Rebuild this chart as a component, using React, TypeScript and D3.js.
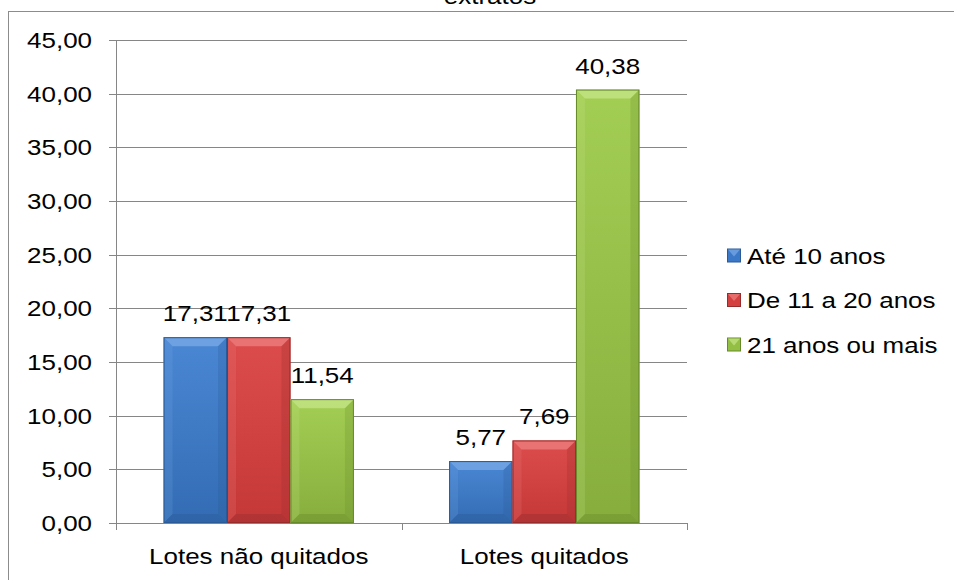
import React from "react";
import * as d3 from "d3";

const categories = ["Lotes não quitados", "Lotes quitados"];
const seriesNames = ["Até 10 anos", "De 11 a 20 anos", "21 anos ou mais"];
const ate10 = [17.31, 5.77];
const de11a20 = [17.31, 7.69];
const mais21 = [11.54, 40.38];
const yTicks = [0, 5, 10, 15, 20, 25, 30, 35, 40, 45];
const titleText = "extratos";

const palette = [
  { base: "#3b79c8", light: "#7aaae6", dark: "#2a5b98", top: "#4a87d4", bottom: "#336cb3" },
  { base: "#d43f3f", light: "#ee8080", dark: "#962c2c", top: "#dc4c4c", bottom: "#c53838" },
  { base: "#94bf45", light: "#c6e68a", dark: "#678a2b", top: "#a3ce54", bottom: "#87ae3d" },
];

const W = 954;
const H = 580;
const left = 116;
const right = 687;
const top = 40;
const bottom = 523;
const font = "Liberation Sans, Arial, sans-serif";

function Txt({ x, y, anchor = "start", size = 22, sx = 1.18, children }: any) {
  return (
    <text
      transform={`translate(${x},${y}) scale(${sx},1)`}
      textAnchor={anchor}
      fontFamily={font}
      fontSize={size}
      fill="#000"
    >
      {children}
    </text>
  );
}

export default function App() {
  const values = [ate10, de11a20, mais21];
  const y = d3.scaleLinear().domain([0, 45]).range([bottom, top]);
  const x0 = d3.scaleBand().domain(categories).range([left, right]).paddingInner(0).paddingOuter(0);
  const groupW = x0.bandwidth() * (2 / 3);
  const x1 = d3.scaleBand().domain(seriesNames).range([0, groupW]).padding(0);
  const bev = 9;

  return (
    <svg width={W} height={H} style={{ position: "absolute", left: 0, top: 0, background: "#fff" }}>
      <defs>
        {palette.map((p, i) => (
          <linearGradient key={i} id={`g${i}`} x1="0" y1="0" x2="0" y2="1">
            <stop offset="0%" stopColor={p.top} />
            <stop offset="100%" stopColor={p.bottom} />
          </linearGradient>
        ))}
      </defs>
      <rect x={8.5} y={11.5} width={W} height={H} fill="none" stroke="#8c8c8c" strokeWidth={1} />
      <Txt x={490} y={4} anchor="middle">{titleText}</Txt>
      {yTicks.map((t) => (
        <g key={t}>
          {t > 0 && (
            <line x1={left} x2={right} y1={Math.round(y(t)) + 0.5} y2={Math.round(y(t)) + 0.5} stroke="#868686" />
          )}
          <line x1={left - 7} x2={left} y1={Math.round(y(t)) + 0.5} y2={Math.round(y(t)) + 0.5} stroke="#868686" />
          <Txt x={92} y={y(t) + 8} anchor="end">
            {t.toFixed(2).replace(".", ",")}
          </Txt>
        </g>
      ))}
      <line x1={left + 0.5} x2={left + 0.5} y1={top} y2={bottom} stroke="#868686" />
      {categories.map((c, ci) => {
        const gx = (x0(c) as number) + (x0.bandwidth() - groupW) / 2;
        return (
          <g key={c}>
            {seriesNames.map((s, si) => {
              const v = values[si][ci];
              const bx = gx + (x1(s) as number);
              const bw = x1.bandwidth();
              const by = y(v);
              const bh = bottom - by;
              const p = palette[si];
              const b = Math.min(bev, bh / 2);
              return (
                <g key={s}>
                  <rect x={bx} y={by} width={bw} height={bh} fill={`url(#g${si})`} />
                  <polygon
                    points={`${bx},${by} ${bx + bw},${by} ${bx + bw - b},${by + b} ${bx + b},${by + b}`}
                    fill={p.light}
                    opacity={0.75}
                  />
                  <polygon
                    points={`${bx},${by} ${bx + b},${by + b} ${bx + b},${by + bh - b} ${bx},${by + bh}`}
                    fill={p.light}
                    opacity={0.2}
                  />
                  <polygon
                    points={`${bx + bw},${by} ${bx + bw - b},${by + b} ${bx + bw - b},${by + bh - b} ${bx + bw},${by + bh}`}
                    fill={p.dark}
                    opacity={0.25}
                  />
                  <polygon
                    points={`${bx},${by + bh} ${bx + b},${by + bh - b} ${bx + bw - b},${by + bh - b} ${bx + bw},${by + bh}`}
                    fill={p.dark}
                    opacity={0.4}
                  />
                  <rect x={bx + 0.5} y={by + 0.5} width={bw - 1} height={bh - 1} fill="none" stroke={p.dark} strokeWidth={1} />
                  <Txt x={bx + bw / 2} y={by - 16} anchor="middle">
                    {v.toFixed(2).replace(".", ",")}
                  </Txt>
                </g>
              );
            })}
            <Txt x={(x0(c) as number) + x0.bandwidth() / 2} y={564} anchor="middle">
              {c}
            </Txt>
          </g>
        );
      })}
      <line x1={left} x2={right} y1={bottom + 0.5} y2={bottom + 0.5} stroke="#868686" />
      {[left, left + x0.bandwidth(), right].map((tx, i) => (
        <line key={i} x1={Math.round(tx) + 0.5} x2={Math.round(tx) + 0.5} y1={bottom} y2={bottom + 7} stroke="#868686" />
      ))}
      {seriesNames.map((s, i) => {
        const ly = 255.5 + i * 44.5;
        const p = palette[i];
        return (
          <g key={s}>
            <rect x={727.5} y={ly - 6.5} width={13} height={13} fill={p.base} stroke={p.dark} strokeWidth={1} />
            <polygon
              points={`${728},${ly - 6} ${740},${ly - 6} ${734},${ly + 1}`}
              fill={p.light}
              opacity={0.7}
            />
            <Txt x={747} y={ly + 8} sx={1.18}>
              {s}
            </Txt>
          </g>
        );
      })}
    </svg>
  );
}
